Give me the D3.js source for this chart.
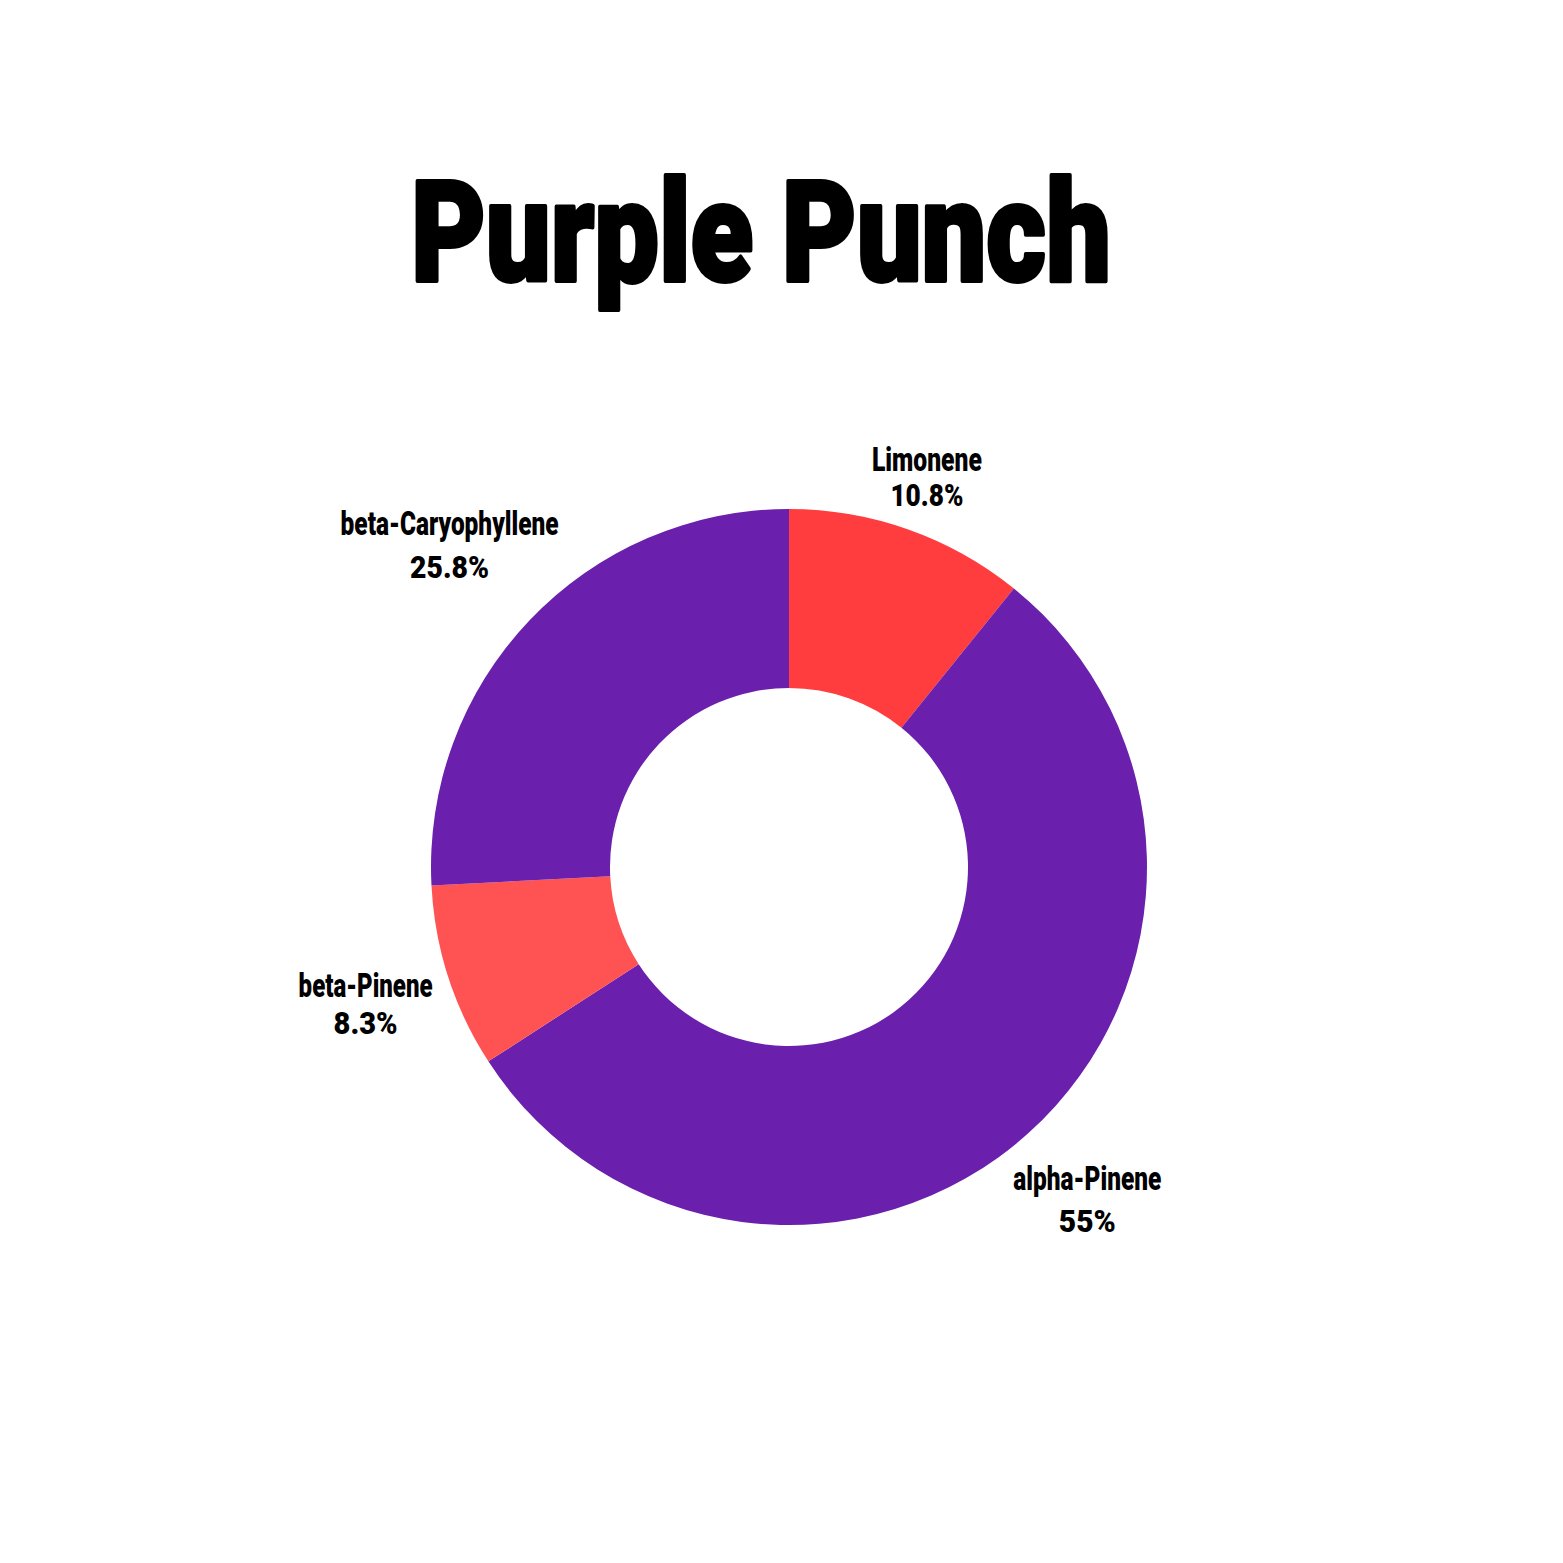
<!DOCTYPE html>
<html>
<head>
<meta charset="utf-8">
<script src="https://cdn.jsdelivr.net/npm/d3@7"></script>
<style>
  html, body { margin: 0; padding: 0; background: #ffffff; }
  svg { display: block; }
</style>
</head>
<body>
<script>
// ---- data ----
const title = "Purple Punch";
const categories = ["Limonene", "alpha-Pinene", "beta-Pinene", "beta-Caryophyllene"];
const values = [10.8, 55, 8.3, 25.8];
const valueLabels = ["10.8%", "55%", "8.3%", "25.8%"];
const colors = ["#FF3C3E", "#6A1FAD", "#FF5252", "#6A1FAD"];

// ---- layout ----
const W = 1563, H = 1563;
const cx = 789, cy = 867;
const outerR = 358, innerR = 179;
const labelFont = "Roboto, 'Liberation Sans Narrow', sans-serif";

// label layout per category (radius of block center, line gap, fitted widths)
const labelLayout = {
  "Limonene":           { r: 414, gap: 35, w1: 110, w2: 73 },
  "alpha-Pinene":       { r: 446, gap: 42, w1: 148, w2: 57 },
  "beta-Pinene":        { r: 445, gap: 37, w1: 134, w2: 64 },
  "beta-Caryophyllene": { r: 468, gap: 43, w1: 218, w2: 79 }
};

const svg = d3.select("body").append("svg")
  .attr("width", W).attr("height", H)
  .attr("viewBox", `0 0 ${W} ${H}`);

svg.append("rect").attr("width", W).attr("height", H).attr("fill", "#ffffff");

// title
svg.append("text")
  .attr("x", 761).attr("y", 281)
  .attr("text-anchor", "middle")
  .attr("font-family", labelFont)
  .attr("font-weight", 900)
  .attr("font-size", 141)
  .attr("textLength", 700)
  .attr("lengthAdjust", "spacingAndGlyphs")
  .attr("stroke", "#000").attr("stroke-width", 4).attr("stroke-linejoin", "round")
  .attr("fill", "#000")
  .text(title);

const data = categories.map((c, i) => ({ name: c, value: values[i], label: valueLabels[i], color: colors[i] }));

const pie = d3.pie().sort(null).value(d => d.value).startAngle(0).endAngle(2 * Math.PI);
const arcs = pie(data);

const arc = d3.arc().innerRadius(innerR).outerRadius(outerR);

const g = svg.append("g").attr("transform", `translate(${cx},${cy})`);

g.selectAll("path.slice")
  .data(arcs)
  .join("path")
  .attr("class", "slice")
  .attr("d", arc)
  .attr("fill", d => d.data.color);

// labels
const labels = g.selectAll("g.label")
  .data(arcs)
  .join("g")
  .attr("class", "label")
  .attr("transform", d => {
    const L = labelLayout[d.data.name];
    const c = d3.arc().innerRadius(L.r).outerRadius(L.r).centroid(d);
    return `translate(${c[0]},${c[1]})`;
  });

labels.append("text")
  .attr("x", 0)
  .attr("y", d => -labelLayout[d.data.name].gap / 2 + 12)
  .attr("text-anchor", "middle")
  .attr("font-family", labelFont)
  .attr("font-weight", 900)
  .attr("font-size", 33)
  .attr("textLength", d => labelLayout[d.data.name].w1)
  .attr("lengthAdjust", "spacingAndGlyphs")
  .attr("fill", "#000")
  .text(d => d.data.name);

labels.append("text")
  .attr("x", 0)
  .attr("y", d => labelLayout[d.data.name].gap / 2 + 12)
  .attr("text-anchor", "middle")
  .attr("font-family", labelFont)
  .attr("font-weight", 900)
  .attr("font-size", 31)
  .attr("textLength", d => labelLayout[d.data.name].w2)
  .attr("lengthAdjust", "spacingAndGlyphs")
  .attr("fill", "#000")
  .text(d => d.data.label);
</script>
</body>
</html>
